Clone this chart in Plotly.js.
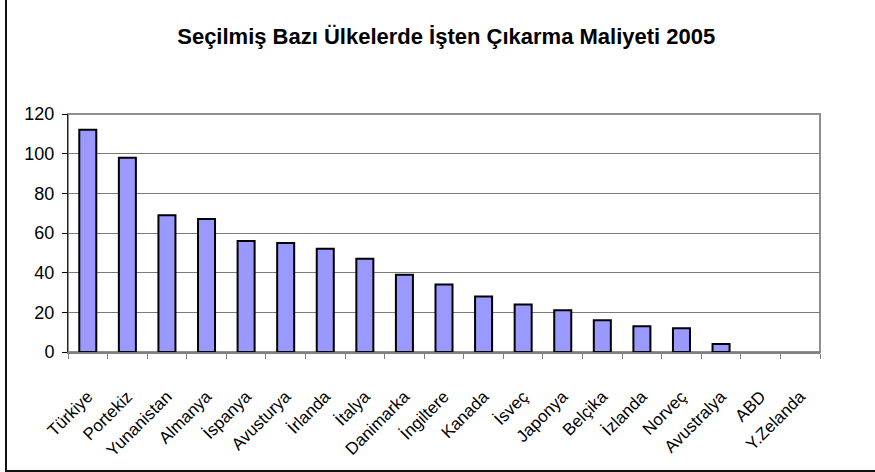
<!DOCTYPE html>
<html>
<head>
<meta charset="utf-8">
<script src="https://cdn.plot.ly/plotly-3.0.1.min.js"></script>
<style>
html,body{margin:0;padding:0;background:#fff;}
#wrap{position:relative;width:875px;height:472px;overflow:hidden;}
#chart{width:875px;height:472px;}
#frame{position:absolute;left:5px;top:-5px;width:900px;height:475px;border-left:2px solid #111;border-bottom:2px solid #111;pointer-events:none;}
</style>
</head>
<body>
<div id="wrap"><div id="chart"></div><div id="frame"></div></div>
<script>
const countries = ["Türkiye","Portekiz","Yunanistan","Almanya","İspanya","Avusturya","İrlanda","İtalya","Danimarka","İngiltere","Kanada","İsveç","Japonya","Belçika","İzlanda","Norveç","Avustralya","ABD","Y.Zelanda"];
const costs = [112,98,69,67,56,55,52,47,39,34,28,24,21,16,13,12,4,0,0];
const yTicks = [0,20,40,60,80,100,120];

const trace = {
  type: "bar",
  x: countries,
  y: costs,
  marker: {color: "#9999ff", line: {color: "#000000", width: costs.map(v => v > 0 ? 2 : 0)}},
  hoverinfo: "x+y"
};

const layout = {
  width: 875, height: 472,
  margin: {l: 68, r: 55, t: 114, b: 120},
  paper_bgcolor: "#ffffff",
  plot_bgcolor: "#ffffff",
  showlegend: false,
  bargap: 0.57,
  font: {family: "Liberation Sans, Arial, sans-serif", color: "#000"},
  title: {
    text: "<b>Seçilmiş Bazı Ülkelerde İşten Çıkarma Maliyeti 2005</b>",
    font: {size: 22, family: "Liberation Sans, Arial, sans-serif", color: "#000"},
    x: 0.51, xanchor: "center", y: 0.924, yanchor: "middle"
  },
  xaxis: {
    type: "category",
    tickangle: -45,
    tickfont: {size: 17},
    ticks: "outside", ticklen: 5, tickcolor: "#808080",
    tickson: "boundaries",
    ticklabelstandoff: 26,
    showline: true, linecolor: "#808080", linewidth: 2,
    showgrid: false, zeroline: false,
    fixedrange: true
  },
  yaxis: {
    range: [0, 120],
    tickvals: yTicks,
    tickfont: {size: 18},
    ticks: "outside", ticklen: 5, tickcolor: "#000",
    ticklabelstandoff: 4,
    showline: true, linecolor: "#222", linewidth: 1,
    showgrid: true, gridcolor: "#7a7a7a", gridwidth: 1,
    zeroline: false,
    fixedrange: true
  },
  shapes: [
    {type: "rect", xref: "paper", yref: "paper", x0: 0, x1: 1, y0: 0, y1: 1,
     line: {color: "#909090", width: 2}, layer: "below"}
  ]
};

Plotly.newPlot("chart", [trace], layout, {displayModeBar: false, staticPlot: true});
</script>
</body>
</html>
